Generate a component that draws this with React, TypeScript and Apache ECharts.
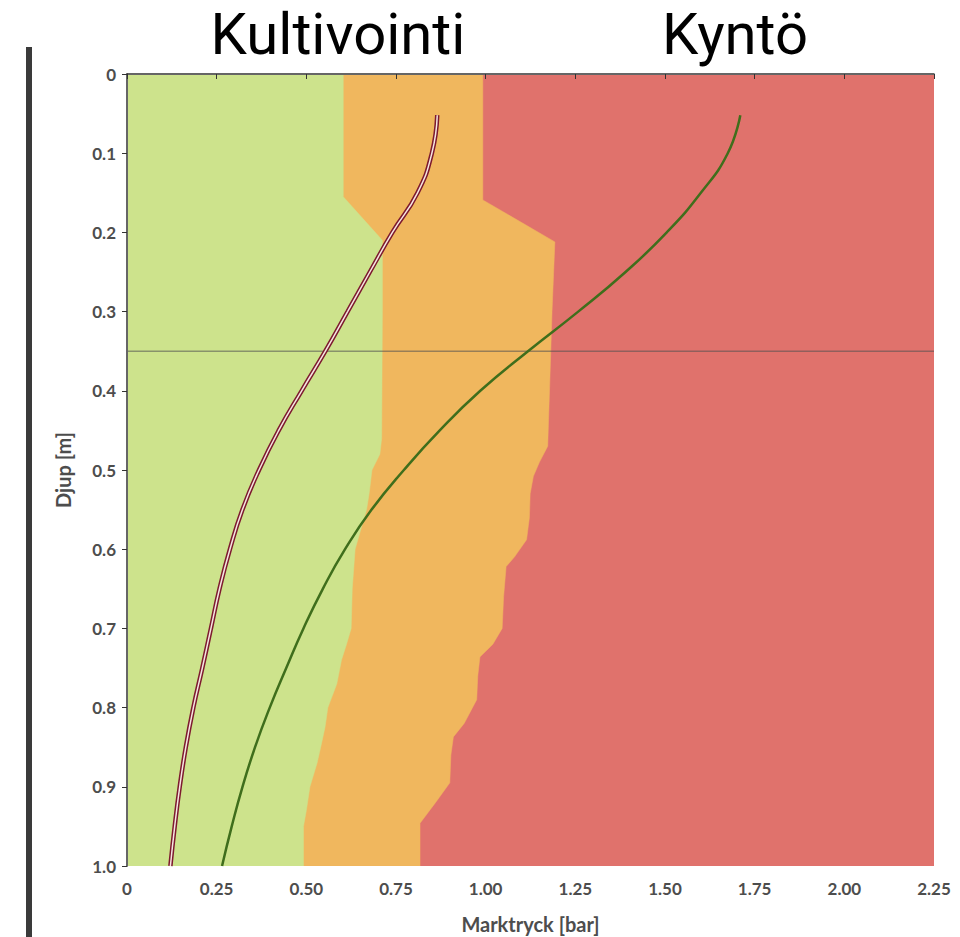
import React, { useEffect, useRef } from "react";
import * as echarts from "echarts";

// ---- data ----
const X_MIN = 0;
const X_MAX = 2.25;
const Y_MIN = 0;
const Y_MAX = 1;
const X_TICK_LABELS = ["0", "0.25", "0.50", "0.75", "1.00", "1.25", "1.50", "1.75", "2.00", "2.25"];
const Y_TICK_LABELS = ["0", "0.1", "0.2", "0.3", "0.4", "0.5", "0.6", "0.7", "0.8", "0.9", "1.0"];

// boundary green / orange  [pressure, depth]
const BOUNDARY_GREEN_ORANGE: [number, number][] = [
  [0.603, 0], [0.603, 0.155], [0.712, 0.21], [0.712, 0.3], [0.71, 0.46], [0.705, 0.48],
  [0.683, 0.5], [0.675, 0.53], [0.668, 0.55], [0.655, 0.57], [0.636, 0.6], [0.628, 0.65],
  [0.625, 0.7], [0.612, 0.72], [0.598, 0.74], [0.585, 0.77], [0.56, 0.8], [0.552, 0.825],
  [0.54, 0.85], [0.53, 0.87], [0.51, 0.9], [0.5, 0.93], [0.492, 0.95], [0.492, 1.0],
];
// boundary orange / red
const BOUNDARY_ORANGE_RED: [number, number][] = [
  [0.992, 0], [0.992, 0.159], [1.193, 0.212], [1.185, 0.3], [1.178, 0.4], [1.173, 0.47],
  [1.15, 0.49], [1.133, 0.508], [1.124, 0.53], [1.122, 0.56], [1.114, 0.588], [1.08, 0.61],
  [1.057, 0.622], [1.05, 0.66], [1.046, 0.7], [1.02, 0.72], [0.984, 0.736], [0.978, 0.76],
  [0.975, 0.79], [0.94, 0.82], [0.91, 0.837], [0.903, 0.86], [0.9, 0.895], [0.86, 0.92],
  [0.817, 0.946], [0.817, 1.0],
];

const DEPTHS = [0.052, 0.1, 0.15, 0.2, 0.25, 0.3, 0.35, 0.4, 0.45, 0.5, 0.55, 0.6, 0.65, 0.7, 0.75, 0.8, 0.85, 0.9, 0.95, 1.0];
const KULTIVOINTI = [0.865, 0.85, 0.81, 0.74, 0.677, 0.615, 0.553, 0.487, 0.423, 0.368, 0.322, 0.287, 0.258, 0.234, 0.21, 0.185, 0.164, 0.147, 0.133, 0.121];
const KYNTO = [1.71, 1.675, 1.6, 1.505, 1.39, 1.258, 1.118, 0.985, 0.872, 0.772, 0.682, 0.608, 0.546, 0.492, 0.444, 0.398, 0.357, 0.322, 0.292, 0.265];

const REFERENCE_DEPTH = 0.35;
const TITLES = ["Kultivointi", "Kyntö"];

const GREEN = "#cde38c";
const ORANGE = "#f0b75e";
const RED = "#e0726c";

function zone(name: string, pts: [number, number][], color: string) {
  return {
    type: "custom",
    name,
    silent: true,
    clip: true,
    data: [[0, 0]],
    renderItem: (_params: any, api: any) => {
      const points = pts.map((p) => api.coord(p));
      return {
        type: "polygon",
        shape: { points },
        style: { fill: color, stroke: color, lineWidth: 0.5 },
      };
    },
  };
}

export default function App() {
  const ref = useRef<HTMLDivElement>(null);
  useEffect(() => {
    if (!ref.current) return;
    const chart = echarts.init(ref.current, null, { renderer: "svg" });
    const redPts: [number, number][] = [[X_MIN, Y_MIN], [X_MAX, Y_MIN], [X_MAX, Y_MAX], [X_MIN, Y_MAX]];
    const orangePts: [number, number][] = [[X_MIN, Y_MIN], ...BOUNDARY_ORANGE_RED, [X_MIN, Y_MAX]];
    const greenPts: [number, number][] = [[X_MIN, Y_MIN], ...BOUNDARY_GREEN_ORANGE, [X_MIN, Y_MAX]];
    const kult = DEPTHS.map((d, i) => [KULTIVOINTI[i], d]);
    const kynt = DEPTHS.map((d, i) => [KYNTO[i], d]);
    const labelStyle = { color: "#4d4d4d", fontSize: 17, fontWeight: "bold", fontFamily: "Lato" };
    const titleStyle = { fontSize: 58, fontFamily: "Roboto", fill: "#000", align: "center", verticalAlign: "middle" };
    chart.setOption({
      animation: false,
      backgroundColor: "#ffffff",
      grid: { left: 127, top: 74, right: 26, bottom: 71, containLabel: false, outerBoundsMode: "none" },
      xAxis: [
        {
          type: "value",
          min: X_MIN,
          max: X_MAX,
          interval: 0.25,
          z: 10,
          name: "Marktryck [bar]",
          nameLocation: "middle",
          nameGap: 48,
          nameTextStyle: { color: "#4d4d4d", fontSize: 20, fontWeight: "bold", fontFamily: "Lato" },
          axisLine: { lineStyle: { color: "#333", width: 1.5 } },
          axisTick: { show: true, length: 5, lineStyle: { color: "#333" } },
          axisLabel: { ...labelStyle, margin: 14, formatter: (_v: number, i: number) => X_TICK_LABELS[i] ?? "" },
          splitLine: { show: false },
        },
        {
          type: "value",
          position: "top",
          min: X_MIN,
          max: X_MAX,
          z: 10,
          axisLine: { show: true, lineStyle: { color: "#666", width: 1 } },
          axisTick: { show: false },
          axisLabel: { show: false },
          splitLine: { show: false },
        },
      ],
      yAxis: [
        {
          type: "value",
          inverse: true,
          min: Y_MIN,
          max: Y_MAX,
          interval: 0.1,
          z: 10,
          name: "Djup [m]",
          nameLocation: "middle",
          nameRotate: 90,
          nameGap: 54,
          nameTextStyle: { color: "#4d4d4d", fontSize: 20, fontWeight: "bold", fontFamily: "Lato" },
          axisLine: { lineStyle: { color: "#333", width: 1.5 } },
          axisTick: { show: true, length: 5, lineStyle: { color: "#333" } },
          axisLabel: { ...labelStyle, margin: 11, formatter: (_v: number, i: number) => Y_TICK_LABELS[i] ?? "" },
          splitLine: { show: false },
        },
        {
          type: "value",
          position: "right",
          inverse: true,
          min: Y_MIN,
          max: Y_MAX,
          z: 10,
          axisLine: { show: true, lineStyle: { color: "#666", width: 1 } },
          axisTick: { show: false },
          axisLabel: { show: false },
          splitLine: { show: false },
        },
      ],
      graphic: [
        { type: "rect", shape: { x: 26, y: 47, width: 6, height: 900 }, style: { fill: "#3a3a3a" } },
        { type: "text", x: 338, y: 34, style: { ...titleStyle, text: TITLES[0] } },
        { type: "text", x: 735, y: 34, style: { ...titleStyle, text: TITLES[1] } },
      ],
      series: [
        zone("red", redPts, RED),
        zone("orange", orangePts, ORANGE),
        zone("green", greenPts, GREEN),
        {
          type: "line",
          name: "ref",
          data: [[X_MIN, REFERENCE_DEPTH], [X_MAX, REFERENCE_DEPTH]],
          symbol: "none",
          silent: true,
          lineStyle: { color: "rgba(80,80,80,0.55)", width: 1.5 },
        },
        {
          type: "line",
          name: "Kyntö",
          data: kynt,
          smooth: 0.5,
          symbol: "none",
          lineStyle: { color: "#3f6e1c", width: 2.5 },
        },
        {
          type: "line",
          name: "Kultivointi",
          data: kult,
          smooth: 0.5,
          symbol: "none",
          lineStyle: { color: "#7d1a2e", width: 4.5 },
        },
        {
          type: "line",
          name: "Kultivointi inner",
          data: kult,
          smooth: 0.5,
          symbol: "none",
          lineStyle: { color: "#f6e6e2", width: 1.5 },
        },
      ],
    });
    return () => chart.dispose();
  }, []);
  return <div ref={ref} style={{ position: "fixed", left: 0, top: 0, width: 960, height: 937 }} />;
}
